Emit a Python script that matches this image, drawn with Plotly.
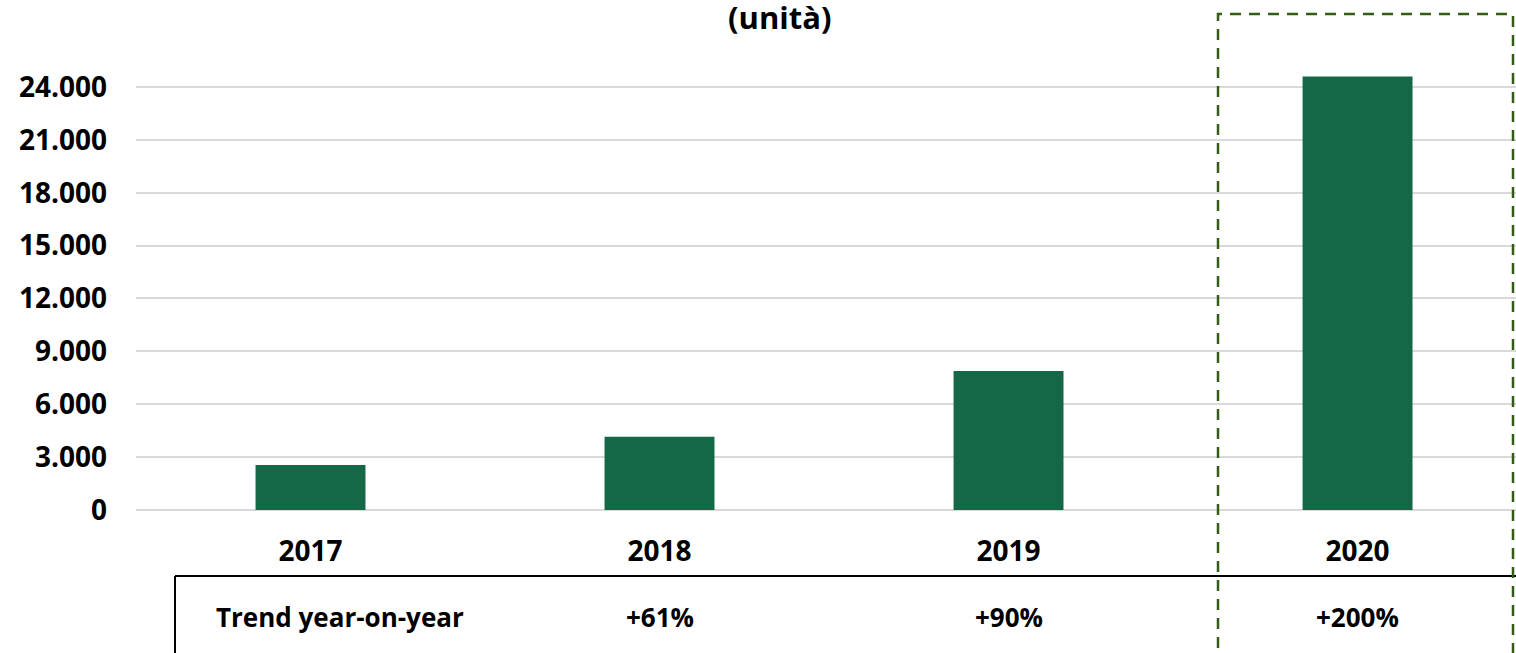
import plotly.graph_objects as go

# Data
years = ["2017", "2018", "2019", "2020"]
units = [2560, 4150, 7880, 24600]
trend_label = "Trend year-on-year"
trend_values = ["", "+61%", "+90%", "+200%"]
y_ticks = [0, 3000, 6000, 9000, 12000, 15000, 18000, 21000, 24000]
title_text = "(unità)"

BAR = "#146845"
DASH = "#335c19"
FONT = "Open Sans"

W, H = 1516, 653
ML, MR, MT, MB = 136, 0, 20, 143
plot_w = W - ML - MR
plot_h = H - MT - MB


def px_x(px):
    return (px - ML) / plot_w


def px_y(py):
    return (H - MB - py) / plot_h


fig = go.Figure()
fig.add_trace(go.Bar(
    x=years, y=units, marker=dict(color=BAR, line=dict(width=0)),
    width=0.315, hoverinfo="x+y",
))

fig.update_layout(
    width=W, height=H,
    margin=dict(l=ML, r=MR, t=MT, b=MB),
    paper_bgcolor="white", plot_bgcolor="white",
    separators=",.",
    showlegend=False,
    font=dict(family=FONT, color="black"),
)

fig.update_xaxes(
    type="category", range=[-0.5, 3.454],
    showgrid=False, showline=False, zeroline=False,
    tickfont=dict(family=FONT, size=28, color="black", weight="bold"),
    ticks="", ticklabelstandoff=22,
)
fig.update_yaxes(
    range=[0, 27800], tickvals=y_ticks, tickformat=",d",
    showgrid=True, gridcolor="#d9d9d9", gridwidth=1.5,
    zeroline=True, zerolinecolor="#d9d9d9", zerolinewidth=1.5,
    showline=False, ticks="",
    tickfont=dict(family=FONT, size=28, color="black", weight="bold"),
    ticklabelstandoff=28,
)

# Title (partially cut at top)
fig.add_annotation(
    text=title_text, xref="paper", yref="paper",
    x=px_x(779), y=px_y(17), xanchor="center", yanchor="middle",
    showarrow=False, font=dict(family=FONT, size=31, color="black", weight="bold"),
)

# Table lines
fig.add_shape(type="line", xref="paper", yref="paper",
              x0=px_x(175), x1=1.0, y0=px_y(576), y1=px_y(576),
              line=dict(color="black", width=2))
fig.add_shape(type="line", xref="paper", yref="paper",
              x0=px_x(175), x1=px_x(175), y0=px_y(576), y1=px_y(700),
              line=dict(color="black", width=2))

# Table texts
fig.add_annotation(
    text=trend_label, xref="paper", yref="paper",
    x=px_x(214), y=px_y(617), xanchor="left", yanchor="middle",
    showarrow=False, font=dict(family=FONT, size=26, color="black", weight="bold"),
)
for i, tv in enumerate(trend_values):
    if tv:
        fig.add_annotation(
            text=tv, xref="x", yref="paper",
            x=i, y=px_y(617), xanchor="center", yanchor="middle",
            showarrow=False, font=dict(family=FONT, size=26, color="black", weight="bold"),
        )

# Dashed highlight box around 2020
fig.add_shape(type="rect", xref="paper", yref="paper",
              x0=px_x(1218), x1=px_x(1513), y0=px_y(720), y1=px_y(14),
              line=dict(color=DASH, width=2.5, dash="11px,8px"),
              fillcolor="rgba(0,0,0,0)")

fig.write_html("out.html", config={"displayModeBar": False},
               post_script="document.body.style.margin='0';")
